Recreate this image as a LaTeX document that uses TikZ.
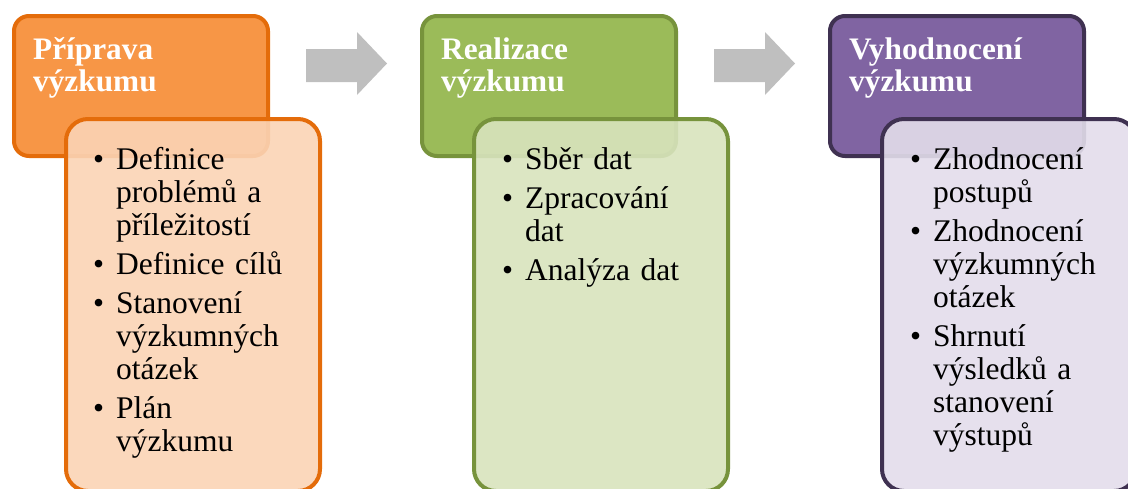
\documentclass[tikz,border=0pt]{standalone}
\usepackage{fontspec}
\setmainfont{Liberation Serif}

% stage colours
\definecolor{orHead}{HTML}{F79646}
\definecolor{orLine}{HTML}{E46C0A}
\definecolor{orBody}{HTML}{FBD4B5}
\definecolor{grHead}{HTML}{9BBB59}
\definecolor{grLine}{HTML}{77933C}
\definecolor{grBody}{HTML}{D8E3BD}
\definecolor{puHead}{HTML}{8064A2}
\definecolor{puLine}{HTML}{3F3151}
\definecolor{puBody}{HTML}{E3DDEB}
\definecolor{arrowGray}{HTML}{BFBFBF}

% bullet placed in the left margin of the list text
\newcommand\bul{\noindent\llap{\textbullet\hspace{12pt}}}
\newcommand\gap{\par\vspace{6pt}}

\begin{document}
\begin{tikzpicture}[x=1pt,y=-1pt,
  headbox/.style={draw, line width=4pt, rounded corners=15pt, anchor=north west,
    outer sep=0pt, inner sep=0pt, minimum width=254pt, minimum height=140pt},
  bodybox/.style={draw, line width=4pt, rounded corners=22pt, anchor=north west,
    outer sep=0pt, inner sep=0pt, minimum width=254pt, minimum height=372pt,
    fill opacity=0.9},
  headtext/.style={anchor=north west, inner sep=0pt, text width=230pt, align=left,
    text=white, font=\fontsize{31.3}{32}\selectfont\bfseries},
  listtext/.style={anchor=north west, inner sep=0pt, text width=220pt, align=left,
    font=\fontsize{31.5}{33}\selectfont},
  stagearrow/.style={fill=arrowGray}
]
\useasboundingbox (0,0) rectangle (1128,488);

% --- stage 1 ---
\node[headbox, fill=orHead, draw=orLine] (h1) at (14,16) {};
\node[bodybox, fill=orBody, draw=orLine] (b1) at (66,119) {};
\node[headtext] (t1) at (33,29) {\rule{0pt}{30pt}Příprava\\výzkumu};
\node[listtext] (l1) at (116,144) {\rule{0pt}{25pt}%
  \bul Definice\\problémů a\\příležitostí\gap
  \bul Definice cílů\gap
  \bul Stanovení\\výzkumných\\otázek\gap
  \bul Plán\\výzkumu\par};

% --- stage 2 ---
\node[headbox, fill=grHead, draw=grLine] (h2) at (422,16) {};
\node[bodybox, fill=grBody, draw=grLine] (b2) at (474,119) {};
\node[headtext] (t2) at (441,29) {\rule{0pt}{30pt}Realizace\\výzkumu};
\node[listtext] (l2) at (525,144) {\rule{0pt}{25pt}%
  \bul Sběr dat\gap
  \bul Zpracování\\dat\gap
  \bul Analýza dat\par};

% --- stage 3 ---
\node[headbox, fill=puHead, draw=puLine] (h3) at (830,16) {};
\node[bodybox, fill=puBody, draw=puLine] (b3) at (882,119) {};
\node[headtext] (t3) at (849,29) {\rule{0pt}{30pt}Vyhodnocení\\výzkumu};
\node[listtext] (l3) at (933,144) {\rule{0pt}{25pt}%
  \bul Zhodnocení\\postupů\gap
  \bul Zhodnocení\\výzkumných\\otázek\gap
  \bul Shrnutí\\výsledků a\\stanovení\\výstupů\par};

% --- block arrows between the stages ---
\foreach \dx in {0,408} {
  \fill[stagearrow, shift={(\dx,0)}]
    (306,49) -- (357,49) -- (357,32) -- (387,63.5) -- (357,95)
    -- (357,82) -- (306,82) -- cycle;
}
\end{tikzpicture}
\end{document}
